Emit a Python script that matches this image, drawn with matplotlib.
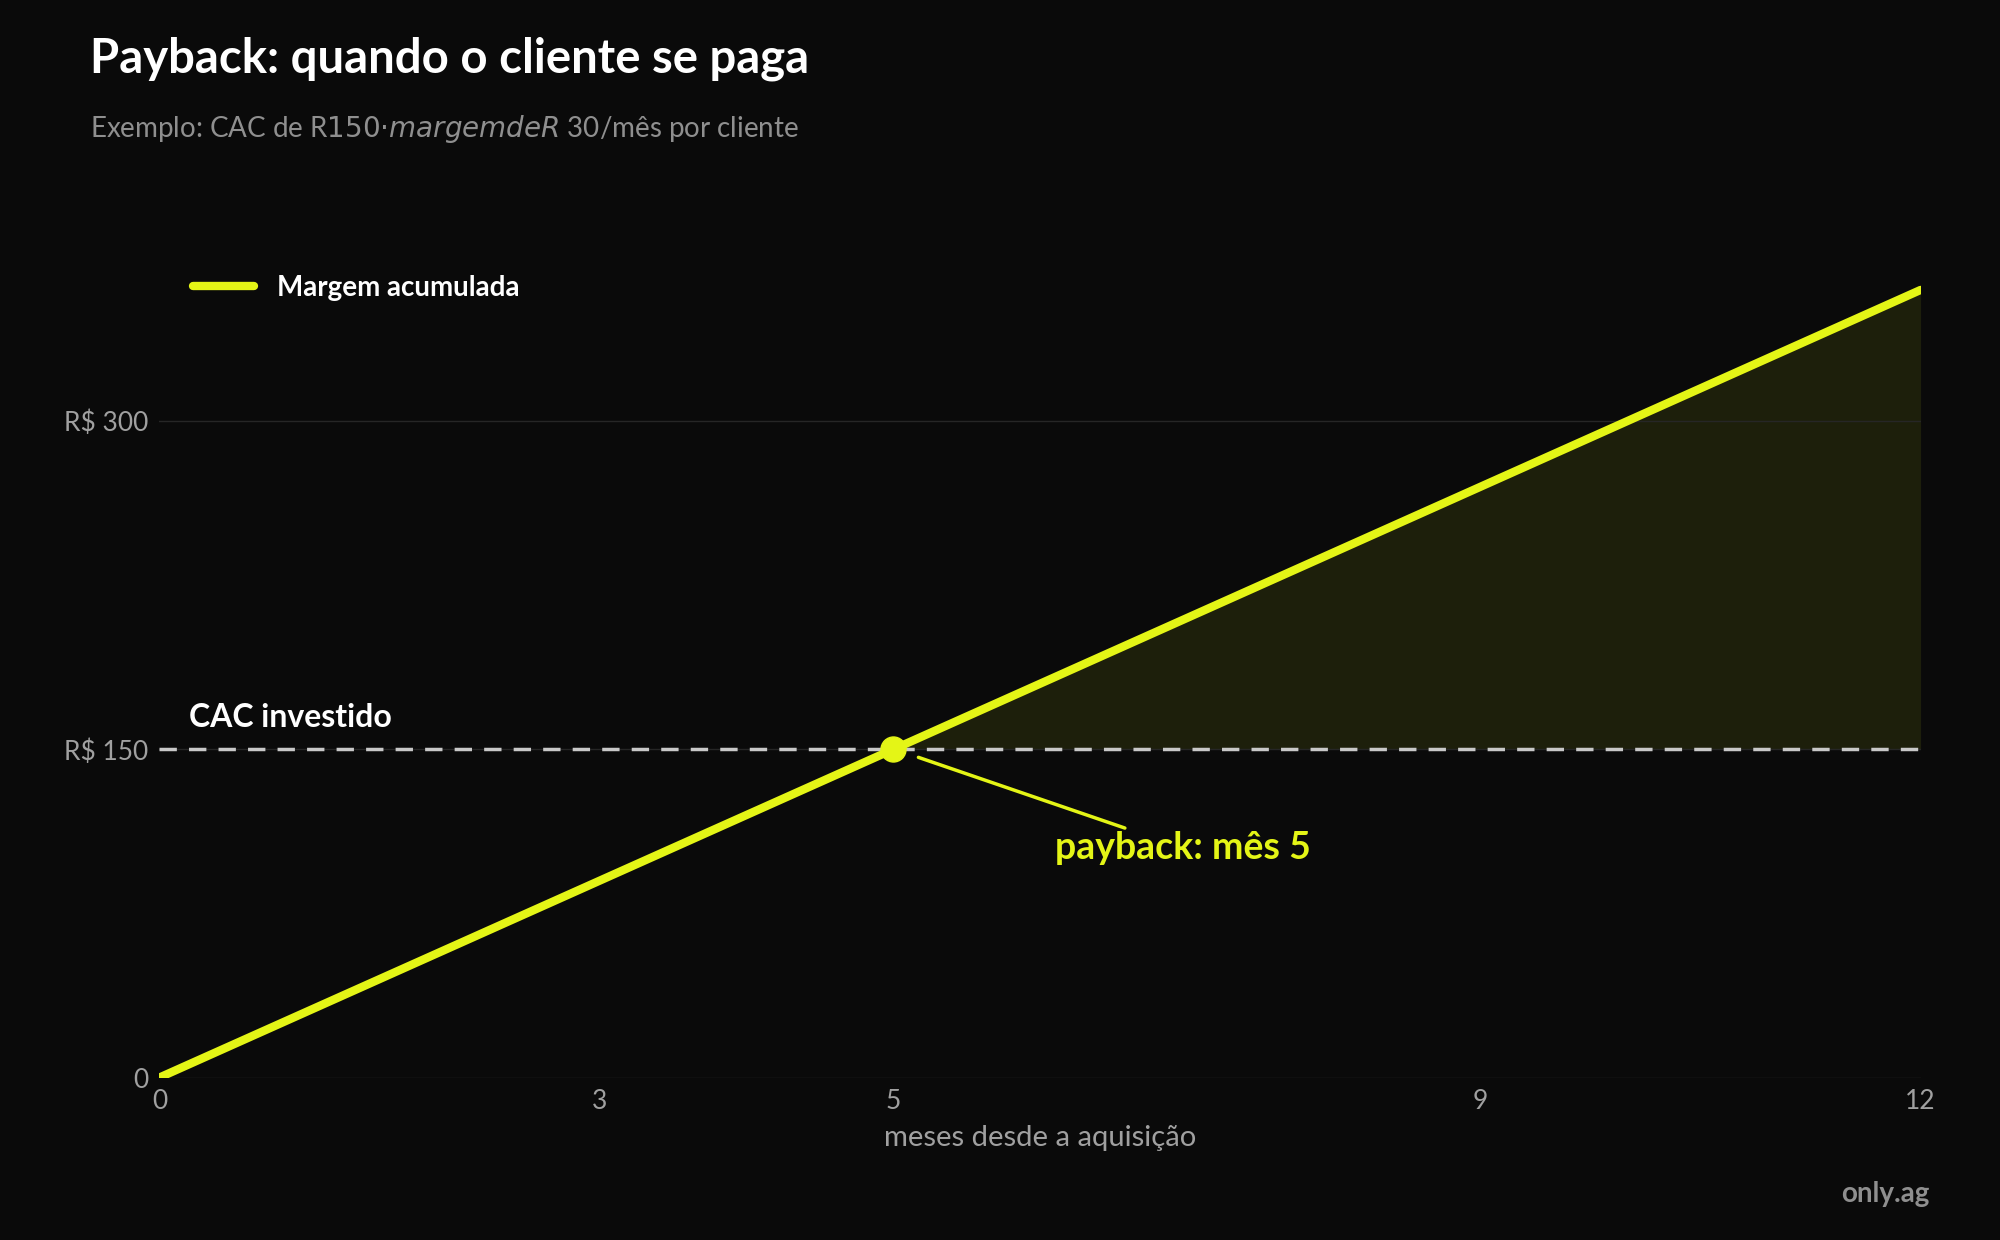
import matplotlib
matplotlib.use("Agg")
import matplotlib.pyplot as plt
import numpy as np

months = list(range(0, 13))
margin_per_month = 30
cumulative = [m * margin_per_month for m in months]
cac = 150
payback_month = 5
xticks = [0, 3, 5, 9, 12]
yticks = [0, 150, 300]
ytick_labels = ["0", "R$ 150", "R$ 300"]

BG = "#0a0a0a"
LIME = "#e4f516"
plt.rcParams['font.family'] = ['Lato', 'DejaVu Sans']

fig = plt.figure(figsize=(20, 12.4), dpi=100, facecolor=BG)
ax = fig.add_axes([0.0797, 0.131, 0.8806, 0.674], facecolor=BG)

x = np.array(months); y = np.array(cumulative)
ax.fill_between(x, cac, y, where=y >= cac, color=LIME, alpha=0.09, linewidth=0, interpolate=True)
ax.plot(x, y, color=LIME, lw=6, solid_capstyle='round', label="Margem acumulada", zorder=4)
ax.axhline(cac, color="#c8c8c8", lw=2.5, ls=(0, (5, 3.5)), zorder=3)
ax.plot([payback_month], [cac], 'o', ms=18, color=LIME, zorder=5)

for v in yticks:
    ax.axhline(v, color="#262626", lw=1, zorder=1)

ax.set_xlim(0, 12)
ax.set_ylim(0, 382)
ax.set_xticks(xticks)
ax.set_xticklabels([str(t) for t in xticks])
ax.set_yticks(yticks)
ax.set_yticklabels(ytick_labels)
ax.tick_params(colors="#a0a0a0", labelsize=19, length=0, pad=8)
for s in ax.spines.values():
    s.set_visible(False)
ax.set_xlabel("meses desde a aquisição", color="#a0a0a0", fontsize=21, labelpad=8)

ax.text(0.2, cac + 8, "CAC investido", color="white", fontsize=23, fontweight='bold', va='bottom')
ax.annotate("payback: mês 5", xy=(payback_month + 0.1, cac - 2), xytext=(6.1, 105),
            color=LIME, fontsize=27, fontweight='bold', va='center',
            arrowprops=dict(arrowstyle='-', color=LIME, lw=2.5, shrinkA=0, shrinkB=8), zorder=6)

leg = ax.legend(loc='upper left', bbox_to_anchor=(0.005, 0.99), frameon=False, fontsize=20,
                handlelength=2.2, labelcolor='white')
for t in leg.get_texts():
    t.set_fontweight('bold')

fig.text(0.045, 0.953, "Payback: quando o cliente se paga", color="white", fontsize=34,
         fontweight='bold', va='center')
fig.text(0.045, 0.896, "Exemplo: CAC de R$ 150 · margem de R$ 30/mês por cliente", color="#8f8f8f",
         fontsize=20, va='center')
fig.text(0.965, 0.037, "only.ag", color="#8f8f8f", fontsize=20, fontweight='bold', ha='right', va='center')

fig.savefig("out.png", dpi=100, facecolor=BG)
